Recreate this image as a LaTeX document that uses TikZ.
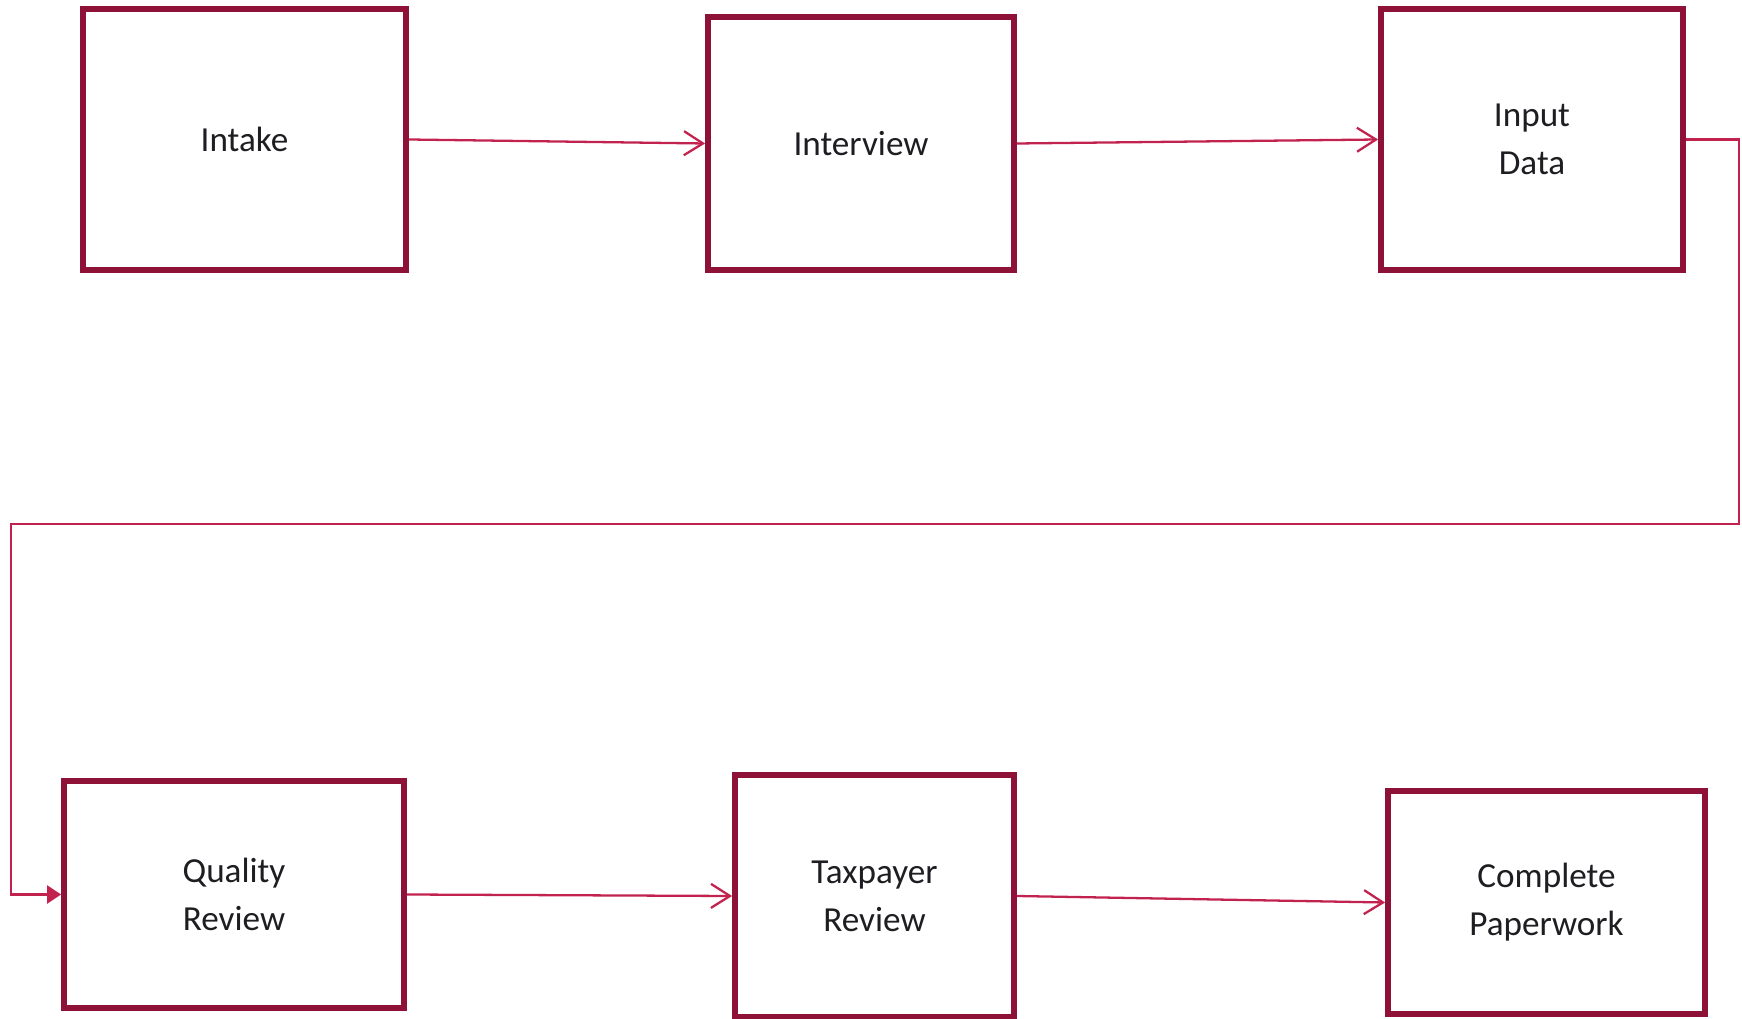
\documentclass[tikz,border=0pt]{standalone}
\usepackage{fontspec}
\setmainfont{Carlito}
\usetikzlibrary{arrows.meta,positioning}
\definecolor{boxline}{HTML}{8E1238}
\definecolor{flowline}{HTML}{C2234E}
\definecolor{dark}{HTML}{1E1E22}
\tikzset{
    % Process step box
    stepbox/.style={
        rectangle,
        draw=boxline,
        fill=white,
        line width=1.6pt,
        align=center,
        text=dark,
        font=\fontsize{10}{13.6}\selectfont
    },
    % Forward arrows
    flow/.style={
        -{Straight Barb[length=1.9mm, width=2.4mm]},
        line width=0.65pt,
        color=flowline
    },
    % Return arrow to the second row
    backflow/.style={
        -{Triangle[length=1.4mm, width=1.8mm]},
        line width=0.65pt,
        color=flowline
    }
}
\begin{document}
\begin{tikzpicture}[x=0.01cm, y=-0.01cm]
        \useasboundingbox (0,0) rectangle (1742,1019);

        % First row
        \node[stepbox, minimum width=3.23cm, minimum height=2.61cm] (intake) at (244.5,139.5) {Intake};
        \node[stepbox, minimum width=3.06cm, minimum height=2.53cm] (interview) at (861,143.5) {Interview};
        \node[stepbox, minimum width=3.02cm, minimum height=2.61cm] (input) at (1532,139.5) {Input\\Data};

        % Second row
        \node[stepbox, minimum width=3.40cm, minimum height=2.27cm] (quality) at (234,894.5) {Quality\\Review};
        \node[stepbox, minimum width=2.79cm, minimum height=2.42cm] (taxpayer) at (874.5,896) {Taxpayer\\Review};
        \node[stepbox, minimum width=3.17cm, minimum height=2.23cm] (complete) at (1546.5,902.5) {Complete\\Paperwork};

        % Connections
        \draw[flow] (intake.east) -- (interview.west);
        \draw[flow] (interview.east) -- (input.west);
        \draw[flow] (quality.east) -- (taxpayer.west);
        \draw[flow] (taxpayer.east) -- (complete.west);

        % Return path
        \coordinate (turnR) at (1739,524);
        \coordinate (turnL) at (11,524);
        \draw[backflow] (input.east) -| (turnR) -- (turnL) |- (quality.west);

    \end{tikzpicture}
\end{document}
